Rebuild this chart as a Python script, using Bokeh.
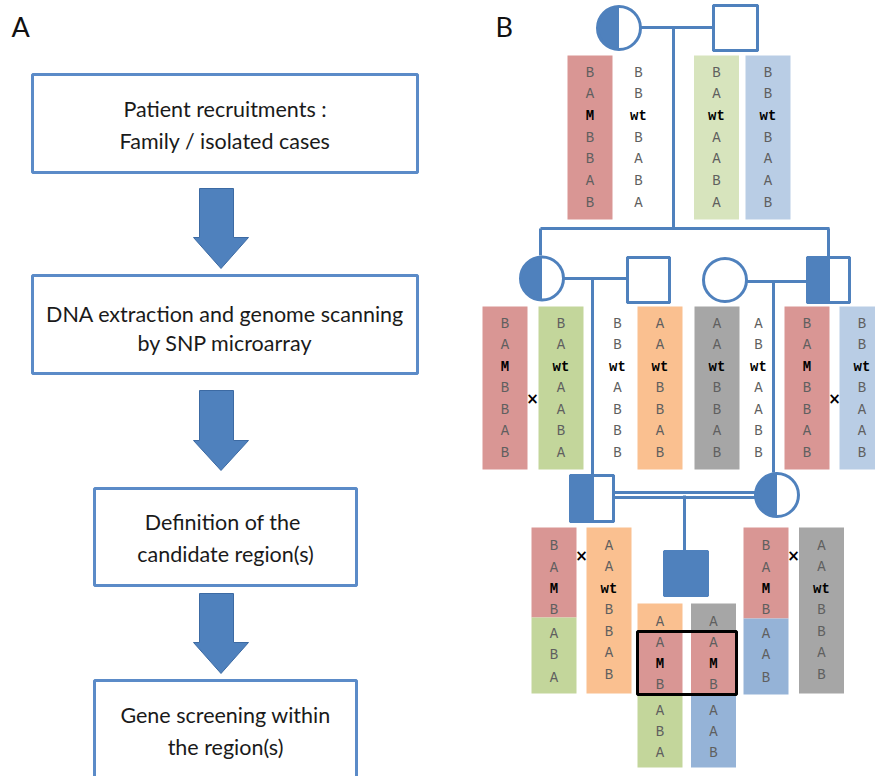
import numpy as np
from bokeh.plotting import figure
from bokeh.models import Range1d
from bokeh.embed import file_html
from bokeh.resources import INLINE
from bokeh.core.properties import value

# ---------------- data ----------------
panel_labels = ["A", "B"]
step_texts = [
    ["Patient recruitments :", "Family / isolated cases"],
    ["DNA extraction and genome scanning", "by SNP microarray"],
    ["Definition of  the", "candidate region(s)"],
    ["Gene screening within", "the region(s)"],
]

# generation I haplotypes
g1_red = ["B", "A", "M", "B", "B", "A", "B"]
g1_white = ["B", "B", "wt", "B", "A", "B", "A"]
g1_green = ["B", "A", "wt", "A", "A", "B", "A"]
g1_blue = ["B", "B", "wt", "B", "A", "A", "B"]
# generation II haplotypes
g2_red1 = ["B", "A", "M", "B", "B", "A", "B"]
g2_green = ["B", "A", "wt", "A", "A", "B", "A"]
g2_white1 = ["B", "B", "wt", "A", "B", "B", "B"]
g2_orange = ["A", "A", "wt", "B", "B", "A", "B"]
g2_gray = ["A", "A", "wt", "B", "B", "A", "B"]
g2_white2 = ["A", "B", "wt", "A", "A", "B", "B"]
g2_red2 = ["B", "A", "M", "B", "B", "A", "B"]
g2_blue = ["B", "B", "wt", "B", "A", "A", "B"]
# generation III haplotypes (recombinant ones split in two parts)
g3_left = ["B", "A", "M", "B", "A", "B", "A"]
g3_orange = ["A", "A", "wt", "B", "B", "A", "B"]
g3_right = ["B", "A", "M", "B", "A", "A", "B"]
g3_gray = ["A", "A", "wt", "B", "B", "A", "B"]
# generation IV (affected child)
g4_left = ["A", "A", "M", "B", "A", "B", "A"]
g4_right = ["A", "A", "M", "B", "A", "A", "B"]

# ---------------- styles ----------------
PB = "#4F81BD"
RED = "#D99694"
GREEN_L = "#D7E4BD"
BLUE_L = "#B9CDE5"
GREEN = "#C3D69B"
ORANGE = "#FAC090"
GRAY = "#A6A6A6"
BLUE = "#95B3D7"
TXT = "#5f5f5f"
MONO = value("Liberation Mono")

p = figure(width=875, height=776, x_range=Range1d(0, 875), y_range=Range1d(776, 0),
           output_backend="svg", toolbar_location=None, min_border=0,
           x_axis_location=None, y_axis_location=None)
p.grid.visible = False
p.outline_line_color = None

# ---------------- panel A ----------------
p.text(x=[11, 495], y=[26, 26], text=panel_labels, text_font=value("Lato"),
       text_font_size="27px", text_color="#111", text_align="left", text_baseline="middle")

boxes = [(32, 417, 74, 172), (32, 417, 275, 373), (94, 356, 488, 585), (94, 356, 680, 800)]
line_ys = [(108, 140), (313, 342), (521, 553), (714, 746)]
p.quad(left=[b[0] for b in boxes], right=[b[1] for b in boxes],
       top=[b[2] for b in boxes], bottom=[b[3] for b in boxes],
       fill_color="white", line_color="#5B8BC8", line_width=3)
tx, ty, tt = [], [], []
for b, ys, lines in zip(boxes, line_ys, step_texts):
    for yy, s in zip(ys, lines):
        tx.append((b[0] + b[1]) / 2); ty.append(yy); tt.append(s)
p.text(x=tx, y=ty, text=tt, text_font=value("Lato"), text_font_size="21.5px",
       text_color="#1a1a1a", text_align="center", text_baseline="middle")

arrows = [(188, 237, 268), (390, 440, 470), (593, 642, 673)]
axs, ays = [], []
for top, hy, tip in arrows:
    axs.append([199, 233, 233, 248, 220.5, 193, 199])
    ays.append([top, top, hy, hy, tip, hy, hy])
p.patches(axs, ays, fill_color=PB, line_color="#3C6AA3", line_width=1)

# ---------------- panel B : haplotype bars ----------------
def bar(xc, segs, alleles, rows):
    for col, y0, y1 in segs:
        if col is not None:
            p.quad(left=xc - 22.5, right=xc + 22.5, top=y0, bottom=y1,
                   fill_color=col, line_color=None)
    norm = [(r, a) for r, a in zip(rows, alleles) if a not in ("M", "wt")]
    bold = [(r, a) for r, a in zip(rows, alleles) if a in ("M", "wt")]
    if norm:
        p.text(x=[xc] * len(norm), y=[r for r, _ in norm], text=[a for _, a in norm],
               text_font=MONO, text_font_size="14px", text_color=TXT,
               text_align="center", text_baseline="middle")
    if bold:
        p.text(x=[xc] * len(bold), y=[r for r, _ in bold], text=[a for _, a in bold],
               text_font=MONO, text_font_size="14px", text_color="black",
               text_font_style="bold", text_align="center", text_baseline="middle")

r1 = [72 + i * 21.7 for i in range(7)]
bar(589.5, [(RED, 55, 219)], g1_red, r1)
bar(638, [(None, 55, 219)], g1_white, r1)
bar(716, [(GREEN_L, 55, 219)], g1_green, r1)
bar(767.5, [(BLUE_L, 55, 219)], g1_blue, r1)

r2 = [323 + i * 21.5 for i in range(7)]
bar(504.5, [(RED, 306, 469)], g2_red1, r2)
bar(560.5, [(GREEN, 306, 469)], g2_green, r2)
bar(617, [(None, 306, 469)], g2_white1, r2)
bar(659.5, [(ORANGE, 306, 469)], g2_orange, r2)
bar(716.5, [(GRAY, 306, 469)], g2_gray, r2)
bar(758, [(None, 306, 469)], g2_white2, r2)
bar(806.5, [(RED, 306, 469)], g2_red2, r2)
bar(861.5, [(BLUE_L, 306, 469)], g2_blue, r2)

r3u = [545 + i * 21.5 for i in range(7)]
r3s = [545, 567, 588, 609, 633, 654, 677]
bar(553.5, [(RED, 527, 617), (GREEN, 617, 693)], g3_left, r3s)
bar(608.5, [(ORANGE, 527, 693)], g3_orange, r3u)
bar(765.5, [(RED, 527, 618), (BLUE, 618, 694)], g3_right, r3s)
bar(821, [(GRAY, 527, 693)], g3_gray, r3u)

r4 = [621, 642, 663, 684, 710, 731, 752]
bar(659.5, [(ORANGE, 603, 631), (RED, 631, 694), (GREEN, 694, 767)], g4_left, r4)
bar(713, [(GRAY, 603, 631), (RED, 631, 694), (BLUE, 694, 767)], g4_right, r4)
p.quad(left=637, right=736, top=631, bottom=694, fill_color=None,
       line_color="black", line_width=3)

p.text(x=[532, 834, 581, 793], y=[398, 398, 555, 555], text=["×"] * 4,
       text_font=value("DejaVu Sans"), text_font_style="bold", text_font_size="15px",
       text_color="black", text_align="center", text_baseline="middle")

# ---------------- panel B : pedigree ----------------
LW = 3
p.segment(x0=[640, 673, 540, 540, 828, 563, 592, 746, 773, 613, 613, 684],
          y0=[27, 27, 228, 228, 228, 278, 278, 281, 281, 492, 497, 495],
          x1=[713, 673, 829, 540, 828, 627, 592, 807, 773, 755, 755, 684],
          y1=[27, 228, 228, 255, 257, 278, 475, 281, 472, 492, 497, 551],
          line_color=PB, line_width=LW)
hc_x = [618.5, 541.5, 776.5]
hc_y = [27.5, 278, 494.5]
p.wedge(x=hc_x, y=hc_y, radius=21.5, start_angle=np.pi / 2, end_angle=3 * np.pi / 2,
        fill_color=PB, line_color=None)
p.circle(x=hc_x, y=hc_y, radius=21.5, fill_color=None, line_color=PB, line_width=LW)
p.circle(x=[724.5], y=[279.5], radius=21.5, fill_color="white", line_color=PB, line_width=LW)
sq = [(713, 757, 5, 50), (627, 669, 257, 302), (807, 849, 257, 302),
      (570, 613, 475, 521), (664, 707, 551, 595)]
p.quad(left=[s[0] for s in sq], right=[s[1] for s in sq],
       top=[s[2] for s in sq], bottom=[s[3] for s in sq],
       fill_color="white", line_color=PB, line_width=LW)
p.quad(left=[807, 570, 664], right=[828, 592, 707], top=[257, 475, 551],
       bottom=[302, 521, 595], fill_color=PB, line_color=PB, line_width=LW)
p.quad(left=[s[0] for s in sq], right=[s[1] for s in sq],
       top=[s[2] for s in sq], bottom=[s[3] for s in sq],
       fill_color=None, line_color=PB, line_width=LW)

open("out.html", "w").write(file_html(p, INLINE))
